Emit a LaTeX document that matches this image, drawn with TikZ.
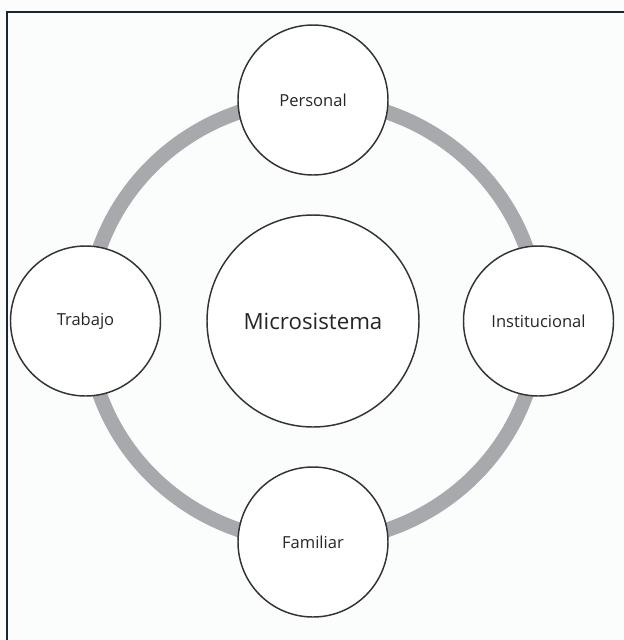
\documentclass[tikz,border=0pt]{standalone}
\usepackage{fontspec}
\setmainfont{Open Sans}
\definecolor{ringgray}{HTML}{A7A9AC}
\definecolor{framecol}{HTML}{1C2633}
\definecolor{paper}{HTML}{FBFCFC}
\definecolor{edgecol}{HTML}{333333}
\tikzset{
  orbit/.style={circle, draw=edgecol, line width=1.1pt, fill=white,
    minimum size=112.5pt, inner sep=0pt, font=\fontsize{12.4}{14}\selectfont, text=black!85},
  core/.style={circle, draw=edgecol, line width=1.1pt, fill=white,
    minimum size=159pt, inner sep=0pt, font=\fontsize{16.7}{19}\selectfont, text=black!85}
}
\begin{document}
\begin{tikzpicture}[x=0.75pt, y=-0.75pt]
  \useasboundingbox (0,0) rectangle (624,640);
  \fill[paper] (0,0) rectangle (624,640);
  % frame: only top and left edges are visible
  \draw[framecol, line width=1.6pt] (7,640) -- (7,12) -- (624,12);
  % grey ring joining the outer circles
  \draw[ringgray, line width=11pt] (313,321) ellipse [x radius=226, y radius=221];
  % nodes
  \node[core]  (micro) at (313,321) {Microsistema};
  \node[orbit] (pers)  at (313,100) {Personal};
  \node[orbit] (trab)  at (85.5,321) {Trabajo};
  \node[orbit] (inst)  at (538.5,321) {Institucional};
  \node[orbit] (fam)   at (313,542) {Familiar};
\end{tikzpicture}
\end{document}
